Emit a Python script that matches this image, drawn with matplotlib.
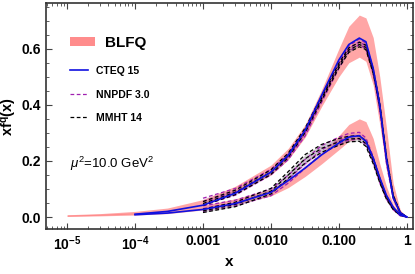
import matplotlib
matplotlib.use("Agg")
import matplotlib.pyplot as plt
from matplotlib.lines import Line2D
from matplotlib.patches import Patch
from matplotlib.ticker import LogLocator, MultipleLocator, NullFormatter

plt.rcParams["font.family"] = ["Liberation Sans", "DejaVu Sans"]
plt.rcParams["mathtext.fontset"] = "custom"
plt.rcParams["mathtext.rm"] = "Liberation Sans"
plt.rcParams["mathtext.it"] = "Liberation Sans:italic"
plt.rcParams["mathtext.bf"] = "Liberation Sans:bold"

# x grid shared by all curves
x = [1e-5, 3e-5, 1e-4, 3e-4, 1e-3, 3e-3, 0.01, 0.018, 0.032, 0.056,
     0.1, 0.14, 0.2, 0.25, 0.32, 0.4, 0.5, 0.63, 0.8, 1.0]

# BLFQ bands (lower edge, upper edge), full x range
blfq_up_lo = [0.003, 0.006, 0.011, 0.020, 0.045, 0.085, 0.150, 0.205, 0.285, 0.395,
              0.500, 0.550, 0.570, 0.555, 0.470, 0.330, 0.170, 0.050, 0.008, 0.0]
blfq_up_hi = [0.008, 0.012, 0.020, 0.032, 0.062, 0.110, 0.185, 0.245, 0.330, 0.455,
              0.600, 0.680, 0.720, 0.710, 0.640, 0.500, 0.320, 0.120, 0.025, 0.0]
blfq_dn_lo = [0.002, 0.004, 0.007, 0.012, 0.025, 0.045, 0.075, 0.105, 0.145, 0.190,
              0.240, 0.270, 0.280, 0.270, 0.210, 0.130, 0.070, 0.025, 0.004, 0.0]
blfq_dn_hi = [0.007, 0.010, 0.015, 0.024, 0.042, 0.065, 0.100, 0.135, 0.180, 0.230,
              0.290, 0.330, 0.350, 0.340, 0.280, 0.190, 0.110, 0.045, 0.010, 0.0]

# CTEQ 15 central, from x = 1e-4
cteq_up = [0.010, 0.020, 0.042, 0.085, 0.160, 0.220, 0.310, 0.435,
           0.560, 0.615, 0.638, 0.625, 0.530, 0.400, 0.210, 0.070, 0.015, 0.0]
cteq_dn = [0.008, 0.014, 0.027, 0.048, 0.088, 0.130, 0.175, 0.222,
           0.264, 0.285, 0.290, 0.270, 0.210, 0.140, 0.078, 0.035, 0.007, 0.0]

# NNPDF 3.0 and MMHT 14 central and error, from x = 1e-3
nnpdf_up = [0.055, 0.090, 0.160, 0.215, 0.300, 0.420, 0.540, 0.600,
            0.625, 0.610, 0.520, 0.390, 0.200, 0.070, 0.015, 0.0]
nnpdf_up_err = [0.012, 0.012, 0.010, 0.010, 0.010, 0.010, 0.010, 0.010,
                0.010, 0.010, 0.010, 0.010, 0.008, 0.005, 0.003, 0.0]
nnpdf_dn = [0.030, 0.050, 0.088, 0.135, 0.190, 0.240, 0.272, 0.286,
            0.290, 0.270, 0.205, 0.130, 0.070, 0.030, 0.006, 0.0]
nnpdf_dn_err = [0.010, 0.010, 0.012, 0.014, 0.016, 0.015, 0.013, 0.012,
                0.012, 0.012, 0.010, 0.008, 0.006, 0.004, 0.002, 0.0]
mmht_up = [0.048, 0.088, 0.160, 0.220, 0.310, 0.425, 0.540, 0.595,
           0.615, 0.605, 0.520, 0.400, 0.215, 0.075, 0.015, 0.0]
mmht_up_err = [0.007, 0.008, 0.008, 0.008, 0.008, 0.008, 0.008, 0.008,
               0.008, 0.008, 0.008, 0.008, 0.006, 0.004, 0.002, 0.0]
mmht_dn = [0.022, 0.045, 0.092, 0.150, 0.208, 0.245, 0.268, 0.278,
           0.280, 0.262, 0.200, 0.130, 0.070, 0.030, 0.008, 0.0]
mmht_dn_err = [0.006, 0.008, 0.010, 0.012, 0.015, 0.014, 0.012, 0.010,
               0.010, 0.010, 0.010, 0.008, 0.006, 0.004, 0.002, 0.0]

x_cteq = x[2:]
x_fit = x[4:]

pink = "#ff8080"
purple = "#a020b0"
blue = "#1010e0"

fig = plt.figure(figsize=(4.15, 2.74), dpi=100)
ax = fig.add_axes([0.111, 0.164, 0.884, 0.825])

ax.fill_between(x, blfq_up_lo, blfq_up_hi, color=pink, alpha=0.7, lw=0)
ax.fill_between(x, blfq_dn_lo, blfq_dn_hi, color=pink, alpha=0.7, lw=0)


def pdf_band(central, err, color, fill, alpha):
    lo = [c - e for c, e in zip(central, err)]
    hi = [c + e for c, e in zip(central, err)]
    ax.fill_between(x_fit, lo, hi, color=fill, alpha=alpha, lw=0)
    for edge in (lo, hi):
        ax.plot(x_fit, edge, color=color, ls=(0, (3, 2)), lw=0.9)
    ax.plot(x_fit, central, color=color, ls=(0, (3, 2)), lw=0.9)


pdf_band(nnpdf_up, nnpdf_up_err, purple, purple, 0.15)
pdf_band(nnpdf_dn, nnpdf_dn_err, purple, purple, 0.15)
pdf_band(mmht_up, mmht_up_err, "black", "gray", 0.3)
pdf_band(mmht_dn, mmht_dn_err, "black", "gray", 0.3)

ax.plot(x_cteq, cteq_up, color=blue, lw=1.2)
ax.plot(x_cteq, cteq_dn, color=blue, lw=1.2)

ax.set_xscale("log")
ax.set_xlim(10 ** -5.31, 10 ** 0.09)
ax.set_ylim(-0.043, 0.763)

ax.set_xticks([1e-5, 1e-4, 1e-3, 1e-2, 1e-1, 1])
ax.set_xticklabels([r"$\mathbf{10^{-5}}$", r"$\mathbf{10^{-4}}$", "0.001", "0.010", "0.100", "1"])
ax.xaxis.set_minor_locator(LogLocator(base=10, subs=range(2, 10), numticks=20))
ax.xaxis.set_minor_formatter(NullFormatter())
ax.set_yticks([0.0, 0.2, 0.4, 0.6])
ax.set_yticklabels(["0.0", "0.2", "0.4", "0.6"])
ax.yaxis.set_minor_locator(MultipleLocator(0.05))

ax.tick_params(which="both", direction="in", top=True, right=True, color="#444444")
ax.tick_params(which="major", length=4, width=0.8, labelsize=10)
ax.tick_params(which="minor", length=2, width=0.6)
for lab in ax.get_xticklabels() + ax.get_yticklabels():
    lab.set_fontweight("bold")
for sp in ax.spines.values():
    sp.set_linewidth(1.2)
    sp.set_color("#333333")

ax.set_xlabel("x", fontsize=11, fontweight="bold", labelpad=2)
ax.set_ylabel(r"$\mathbf{xf}^{\mathbf{q}}\mathbf{(x)}$", fontsize=10.5, labelpad=2)

ax.text(0.065, 0.27, r"$\mu^2$=10.0 GeV$^2$", transform=ax.transAxes, fontsize=9.5)

# BLFQ entry gets its own legend: bigger patch and text
leg1 = ax.legend([Patch(color=pink, alpha=0.9, lw=0)], ["BLFQ"],
                 loc="center left", bbox_to_anchor=(0.0654, 0.823),
                 frameon=False, borderpad=0, borderaxespad=0,
                 handlelength=1.63, handleheight=0.5, handletextpad=0.65,
                 prop={"weight": "bold", "size": 11})
ax.add_artist(leg1)

line_handles = [
    Line2D([], [], color=blue, lw=1.2),
    Line2D([], [], color=purple, ls=(0, (3, 2)), lw=0.9),
    Line2D([], [], color="black", ls=(0, (3, 2)), lw=0.9),
]
ax.legend(line_handles, ["CTEQ 15", "NNPDF 3.0", "MMHT 14"],
          loc="center left", bbox_to_anchor=(0.0654, 0.595),
          frameon=False, borderpad=0, borderaxespad=0,
          handlelength=1.73, handletextpad=0.77, labelspacing=1.3,
          prop={"weight": "bold", "size": 7.5})

fig.savefig("out.png", dpi=100)
